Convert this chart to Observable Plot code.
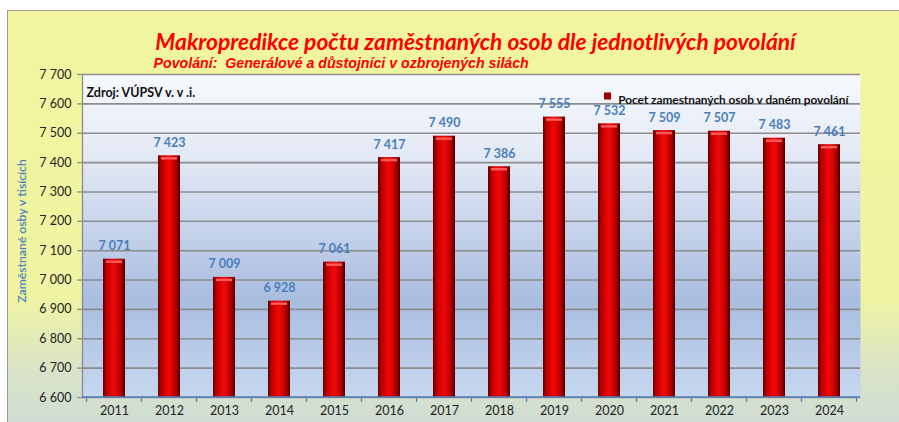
<!DOCTYPE html>
<html>
<head>
<meta charset="utf-8">
<script src="https://cdn.jsdelivr.net/npm/d3@7"></script>
<script src="https://cdn.jsdelivr.net/npm/@observablehq/plot@0.6"></script>
<style>
  html, body { margin: 0; padding: 0; background: #ffffff; }
  #wrap { position: relative; width: 899px; height: 422px; overflow: hidden; }
  #bgframe { position: absolute; left: 7px; top: 10px; width: 900px; height: 420px;
    border: 1.5px solid #9a9a9a;
    background: linear-gradient(to bottom, #f2f59e 0%, #eff4a2 68%, #d9e3c8 86%, #cfdcd6 100%); }
  #chart { position: absolute; left: 0; top: 0; }
</style>
</head>
<body>
<div id="wrap"><div id="bgframe"></div><div id="chart"></div></div>
<script>
const years = [2011, 2012, 2013, 2014, 2015, 2016, 2017, 2018, 2019, 2020, 2021, 2022, 2023, 2024];
const values = [7071, 7423, 7009, 6928, 7061, 7417, 7490, 7386, 7555, 7532, 7509, 7507, 7483, 7461];
const yTicks = [6600, 6700, 6800, 6900, 7000, 7100, 7200, 7300, 7400, 7500, 7600, 7700];
const titleText = "Makropredikce počtu zaměstnaných osob dle jednotlivých povolání";
const subtitleText = "Povolání:  Generálové a důstojníci v ozbrojených silách";
const sourceText = "Zdroj: VÚPSV v. v .i.";
const legendText = "Pocet zamestnaných osob v daném povolání";
const yLabelText = "Zaměstnané osby v tisících";

const data = years.map((year, i) => ({year, value: values[i]}));
const fmt = v => d3.format(",")(v).replace(/,/g, " ");

function bandTicks(index, scales, values, dims) {
  const x = scales.x;
  const bw = x.bandwidth();
  const step = x.step();
  const y0 = dims.height - dims.marginBottom;
  const xs = years.map(d => x(d) - (step - bw) / 2);
  xs.push(x(years[years.length - 1]) + bw + (step - bw) / 2);
  const g = d3.create("svg:g");
  g.append("line")
    .attr("x1", dims.marginLeft).attr("x2", dims.width - dims.marginRight)
    .attr("y1", y0).attr("y2", y0)
    .attr("stroke", "#4f81bd").attr("stroke-width", 1.3);
  g.selectAll("line.t").data(xs).join("line").attr("class", "t")
    .attr("x1", d => d).attr("x2", d => d)
    .attr("y1", y0).attr("y2", y0 + 5)
    .attr("stroke", "#4f81bd").attr("stroke-width", 1.3);
  return g.node();
}

const chart = Plot.plot({
  width: 899,
  height: 422,
  marginLeft: 82,
  marginRight: 39,
  marginTop: 74,
  marginBottom: 25,
  style: {background: "transparent", fontFamily: "Lato, 'Open Sans', sans-serif", overflow: "visible"},
  x: {type: "band", domain: years, paddingInner: 0.6, paddingOuter: 0.3},
  y: {domain: [6600, 7700]},
  marks: [
    Plot.frame({fill: "url(#plotBg)", stroke: null}),
    Plot.gridY(yTicks, {stroke: "#8c8c8c", strokeOpacity: 1, strokeWidth: 1.6}),
    Plot.frame({anchor: "left", stroke: "#8c8c8c", strokeWidth: 1.3}),
    Plot.axisY(yTicks, {tickFormat: fmt, tickSize: 5, tickPadding: 6, fontSize: 12.5, color: "#222", stroke: "#8c8c8c", strokeWidth: 1.3, label: null}),
    Plot.axisX({tickSize: 0, tickPadding: 9, fontSize: 12.5, color: "#222", label: null, tickFormat: d => String(d)}),
    Plot.barY(data, {x: "year", y1: 6600, y2: "value", fill: "url(#barGrad)"}),
    Plot.tickY(data, {x: "year", y: "value", stroke: "#ff5a5a", strokeWidth: 2.5, dy: 2.5, insetLeft: 3, insetRight: 3}),
    bandTicks,
    Plot.text(data, {x: "year", y: "value", text: d => fmt(d.value), dy: -13, fill: "#4a7ebb", fontWeight: "bold", fontSize: 12.5}),
    Plot.text([sourceText], {frameAnchor: "top-left", dx: 4, dy: 14, textAnchor: "start", fill: "#111", fontWeight: "bold", fontSize: 12.5}),
    Plot.dot([legendText], {frameAnchor: "top-right", dx: -253, dy: 21.5, symbol: "square", r: 4, fill: "#a00000", stroke: null}),
    Plot.text([legendText], {frameAnchor: "top-right", dx: -12, dy: 21, textAnchor: "end", fill: "#111", fontWeight: "bold", fontSize: 11.8}),
    Plot.text([titleText], {frameAnchor: "top", dx: 4, dy: -41, fill: "#ff0000", fontWeight: "bold", fontStyle: "italic", fontSize: 22.8}),
    Plot.text([subtitleText], {frameAnchor: "top-left", dx: 71, dy: -17, textAnchor: "start", fill: "#ff0000", fontWeight: "bold", fontStyle: "italic", fontSize: 14.2, fontFamily: "'Liberation Sans', Arial, sans-serif"}),
    Plot.text([yLabelText], {frameAnchor: "left", dx: -60, dy: -5, textAnchor: "middle", rotate: -90, fill: "#4f81bd", fontSize: 12.2, fontWeight: 600})
  ]
});

const defs = d3.select(chart).insert("defs", ":first-child");
const pg = defs.append("linearGradient").attr("id", "plotBg").attr("x1", 0).attr("y1", 0).attr("x2", 0).attr("y2", 1);
[["0%", "#f7f9fd"], ["25%", "#e3e9f5"], ["70%", "#a9bde0"], ["100%", "#c6d7ef"]].forEach(([o, c]) => pg.append("stop").attr("offset", o).attr("stop-color", c));
const bg = defs.append("linearGradient").attr("id", "barGrad").attr("x1", 0).attr("y1", 0).attr("x2", 1).attr("y2", 0);
[["0%", "#5a0000"], ["10%", "#a00000"], ["30%", "#dc0000"], ["50%", "#ee0a0a"], ["72%", "#cc0000"], ["90%", "#8a0000"], ["100%", "#4a0000"]].forEach(([o, c]) => bg.append("stop").attr("offset", o).attr("stop-color", c));

document.getElementById("chart").appendChild(chart);
</script>
</body>
</html>
